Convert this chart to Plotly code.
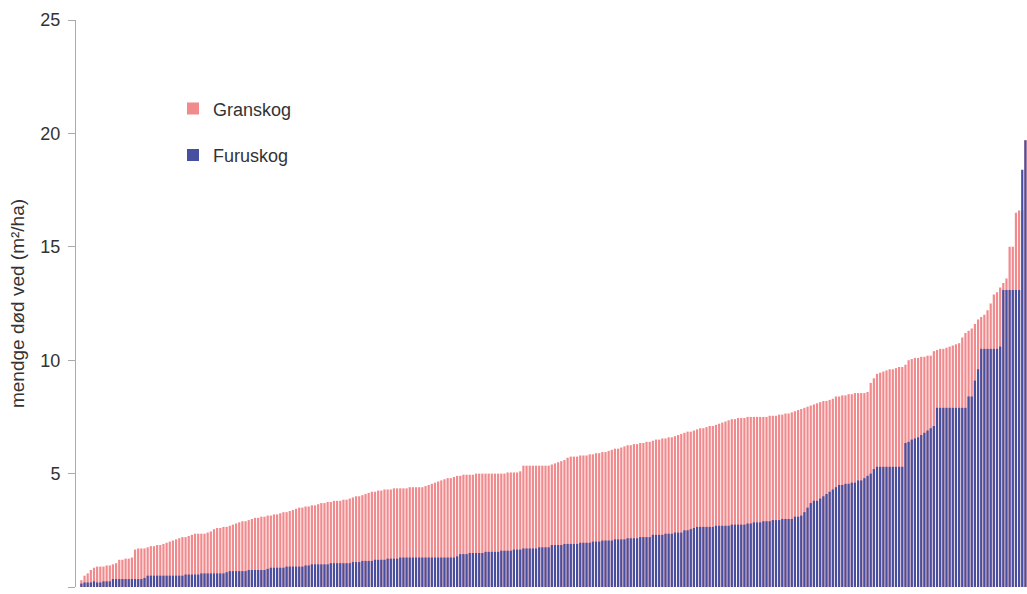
import plotly.graph_objects as go

# Dead wood volume per plot, sorted ascending within each forest type (m2/ha)
granskog = [
    0.3, 0.5, 0.6, 0.75, 0.85, 0.9, 0.9, 0.9, 0.95, 0.95,
    1.0, 1.05, 1.2, 1.2, 1.25, 1.25, 1.3, 1.65, 1.7, 1.7,
    1.7, 1.75, 1.8, 1.8, 1.85, 1.85, 1.9, 1.95, 2.0, 2.05,
    2.1, 2.15, 2.2, 2.2, 2.25, 2.3, 2.35, 2.35, 2.35, 2.35,
    2.4, 2.45, 2.55, 2.6, 2.6, 2.65, 2.65, 2.7, 2.75, 2.8,
    2.85, 2.9, 2.9, 2.95, 3.0, 3.05, 3.05, 3.1, 3.1, 3.15,
    3.15, 3.2, 3.2, 3.25, 3.3, 3.3, 3.35, 3.4, 3.45, 3.5,
    3.5, 3.55, 3.55, 3.6, 3.6, 3.65, 3.7, 3.7, 3.75, 3.75,
    3.8, 3.8, 3.8, 3.85, 3.85, 3.9, 3.95, 4.0, 4.0, 4.05,
    4.1, 4.15, 4.2, 4.2, 4.25, 4.25, 4.3, 4.3, 4.3, 4.35,
    4.35, 4.35, 4.35, 4.35, 4.4, 4.4, 4.4, 4.4, 4.4, 4.45,
    4.5, 4.55, 4.6, 4.65, 4.7, 4.75, 4.8, 4.8, 4.85, 4.9,
    4.9, 4.95, 4.95, 4.95, 4.95, 5.0, 5.0, 5.0, 5.0, 5.0,
    5.0, 5.0, 5.0, 5.0, 5.0, 5.05, 5.05, 5.05, 5.05, 5.1,
    5.35, 5.35, 5.35, 5.35, 5.35, 5.35, 5.35, 5.35, 5.35, 5.4,
    5.45, 5.5, 5.55, 5.6, 5.7, 5.75, 5.75, 5.75, 5.8, 5.8,
    5.8, 5.85, 5.85, 5.9, 5.9, 5.95, 5.95, 6.0, 6.05, 6.1,
    6.1, 6.15, 6.2, 6.25, 6.25, 6.3, 6.3, 6.35, 6.35, 6.4,
    6.4, 6.45, 6.5, 6.5, 6.55, 6.55, 6.6, 6.6, 6.65, 6.7,
    6.75, 6.8, 6.85, 6.85, 6.9, 6.95, 7.0, 7.0, 7.05, 7.1,
    7.1, 7.15, 7.2, 7.25, 7.3, 7.35, 7.4, 7.4, 7.45, 7.45,
    7.45, 7.5, 7.5, 7.5, 7.5, 7.5, 7.5, 7.5, 7.55, 7.55,
    7.55, 7.6, 7.6, 7.65, 7.65, 7.7, 7.75, 7.8, 7.85, 7.9,
    7.95, 8.0, 8.05, 8.1, 8.15, 8.2, 8.2, 8.25, 8.3, 8.4,
    8.4, 8.45, 8.45, 8.5, 8.5, 8.55, 8.55, 8.55, 8.55, 8.6,
    9.0, 9.2, 9.4, 9.45, 9.5, 9.55, 9.6, 9.6, 9.65, 9.7,
    9.7, 9.8, 10.0, 10.05, 10.1, 10.1, 10.15, 10.15, 10.2, 10.2,
    10.4, 10.45, 10.5, 10.5, 10.55, 10.6, 10.65, 10.7, 10.75, 11.0,
    11.2, 11.3, 11.4, 11.6, 11.8, 11.9, 12.0, 12.2, 12.5, 12.9,
    13.0, 13.2, 13.4, 13.6, 15.0, 15.0, 16.5, 16.6, 16.6, 19.7,
]

furuskog = [
    0.15, 0.2, 0.2, 0.2, 0.25, 0.2, 0.2, 0.25, 0.25, 0.25,
    0.35, 0.35, 0.35, 0.35, 0.35, 0.35, 0.35, 0.35, 0.35, 0.35,
    0.4, 0.5, 0.5, 0.5, 0.5, 0.5, 0.5, 0.5, 0.5, 0.5,
    0.5, 0.5, 0.5, 0.55, 0.55, 0.55, 0.55, 0.55, 0.6, 0.6,
    0.6, 0.6, 0.6, 0.6, 0.6, 0.6, 0.65, 0.7, 0.7, 0.7,
    0.7, 0.7, 0.7, 0.75, 0.75, 0.75, 0.75, 0.75, 0.75, 0.8,
    0.85, 0.85, 0.85, 0.85, 0.85, 0.9, 0.9, 0.9, 0.9, 0.9,
    0.9, 0.95, 0.95, 1.0, 1.0, 1.0, 1.0, 1.0, 1.0, 1.05,
    1.05, 1.05, 1.05, 1.05, 1.05, 1.05, 1.1, 1.1, 1.1, 1.15,
    1.15, 1.15, 1.15, 1.2, 1.2, 1.2, 1.2, 1.25, 1.25, 1.25,
    1.25, 1.3, 1.3, 1.3, 1.3, 1.3, 1.3, 1.3, 1.3, 1.3,
    1.3, 1.3, 1.3, 1.3, 1.3, 1.3, 1.3, 1.3, 1.3, 1.35,
    1.45, 1.45, 1.45, 1.5, 1.5, 1.5, 1.5, 1.5, 1.55, 1.55,
    1.55, 1.55, 1.55, 1.6, 1.6, 1.6, 1.6, 1.65, 1.65, 1.65,
    1.7, 1.7, 1.7, 1.7, 1.7, 1.75, 1.75, 1.75, 1.75, 1.85,
    1.85, 1.85, 1.85, 1.9, 1.9, 1.9, 1.9, 1.9, 1.95, 1.95,
    1.95, 1.95, 2.0, 2.0, 2.0, 2.05, 2.05, 2.05, 2.05, 2.1,
    2.1, 2.1, 2.1, 2.15, 2.15, 2.15, 2.15, 2.2, 2.2, 2.2,
    2.2, 2.3, 2.3, 2.3, 2.3, 2.35, 2.35, 2.35, 2.4, 2.4,
    2.4, 2.5, 2.5, 2.55, 2.6, 2.65, 2.65, 2.65, 2.65, 2.65,
    2.65, 2.7, 2.7, 2.7, 2.7, 2.7, 2.75, 2.75, 2.75, 2.75,
    2.75, 2.8, 2.8, 2.85, 2.85, 2.85, 2.9, 2.9, 2.9, 2.95,
    2.95, 2.95, 3.0, 3.0, 3.0, 3.0, 3.1, 3.1, 3.15, 3.3,
    3.5, 3.7, 3.8, 3.8, 3.9, 4.0, 4.1, 4.2, 4.3, 4.4,
    4.5, 4.5, 4.55, 4.55, 4.6, 4.6, 4.7, 4.7, 4.8, 4.9,
    5.0, 5.2, 5.3, 5.3, 5.3, 5.3, 5.3, 5.3, 5.3, 5.3,
    5.3, 6.35, 6.4, 6.5, 6.55, 6.6, 6.7, 6.8, 6.9, 7.0,
    7.1, 7.9, 7.9, 7.9, 7.9, 7.9, 7.9, 7.9, 7.9, 7.9,
    7.9, 8.4, 8.4, 9.1, 9.6, 10.5, 10.5, 10.5, 10.5, 10.5,
    10.5, 10.6, 13.1, 13.1, 13.1, 13.1, 13.1, 13.1, 18.4, 19.7,
]

plot_index = list(range(len(granskog)))
y_ticks = [0, 5, 10, 15, 20, 25]

fig = go.Figure()
fig.add_trace(go.Bar(
    x=plot_index, y=granskog, name="Granskog",
    marker=dict(color="#f08a8d", line=dict(width=0)),
    legendgroup="gran",
))
fig.add_trace(go.Bar(
    x=plot_index, y=furuskog, name="Furuskog",
    marker=dict(color="#4750a0", line=dict(width=0)),
    legendgroup="furu",
))

fig.update_layout(
    width=1027, height=594,
    margin=dict(l=76, r=0, t=20, b=7),
    paper_bgcolor="white", plot_bgcolor="white",
    barmode="overlay", bargap=0.3,
    font=dict(family="Liberation Sans, Arial, sans-serif", size=18, color="#333333"),
    showlegend=True,
    legend=dict(
        x=0.102, y=0.876, xanchor="left", yanchor="top",
        bgcolor="rgba(0,0,0,0)", tracegroupgap=20,
        traceorder="grouped", font=dict(size=18, color="#333333"),
    ),
)
fig.update_xaxes(
    range=[-1.7, len(granskog) - 0.5], showticklabels=False, ticks="",
    showgrid=False, zeroline=False, showline=False,
)
fig.update_yaxes(
    range=[0, 25], tickvals=y_ticks, ticks="outside", ticklen=7,
    tickcolor="#aaaaaa", showline=True, linecolor="#aaaaaa", linewidth=1,
    showgrid=False, zeroline=False, ticklabelstandoff=4,
    tickfont=dict(size=18, color="#333333"),
    title=dict(text="mendge død ved (m²/ha)", font=dict(size=19, color="#333333"), standoff=10),
)

fig.write_html("out.html")
